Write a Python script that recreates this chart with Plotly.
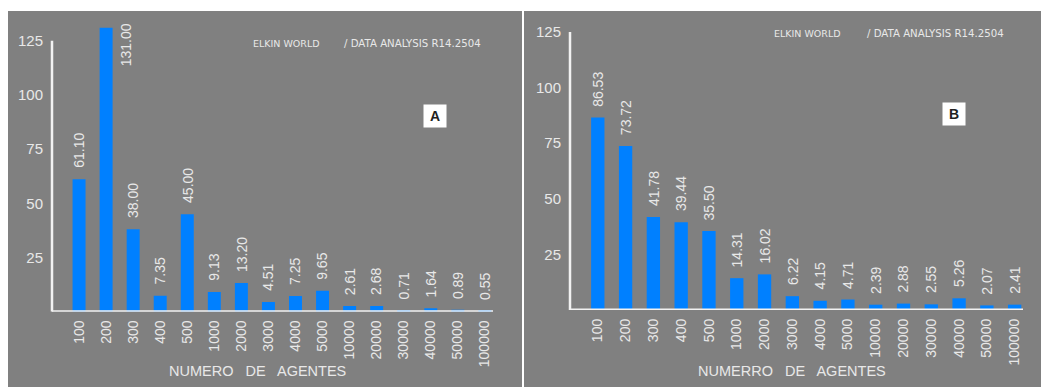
import plotly.graph_objects as go

# Data
agentes = ["100", "200", "300", "400", "500", "1000", "2000", "3000", "4000",
           "5000", "10000", "20000", "30000", "40000", "50000", "100000"]
valores_a = [61.10, 131.00, 38.00, 7.35, 45.00, 9.13, 13.20, 4.51, 7.25,
             9.65, 2.61, 2.68, 0.71, 1.64, 0.89, 0.55]
valores_b = [86.53, 73.72, 41.78, 39.44, 35.50, 14.31, 16.02, 6.22, 4.15,
             4.71, 2.39, 2.88, 2.55, 5.26, 2.07, 2.41]
y_ticks = [25, 50, 75, 100, 125]

W, H = 1041, 387
GRAY = "#808080"
BLUE = "#0080ff"
TXT = "#e8e8e8"
FONT = "Liberation Sans, Arial, sans-serif"
HDR_FONT = "DejaVu Sans, sans-serif"

pos = list(range(len(agentes)))


def px(x):
    return x / W


def py(y):
    return 1 - y / H


# panel geometry (pixels): y-axis x, x-axis end x, baseline y, 125-level y
panels = [
    dict(ax="", x0=52, x1=493, base=311.7, top125=40.7, title="NUMERO   DE   AGENTES",
         tx=257, tag="A", tagx=435, tagy=116.5, hdr_y=43, hdr1=251, hdr2=342,
         bg=(8, 522), vals=valores_a),
    dict(ax="2", x0=570, x1=1023, base=310, top125=32, title="NUMERRO   DE   AGENTES",
         tx=792, tag="B", tagx=954, tagy=114, hdr_y=33, hdr1=772, hdr2=865,
         bg=(524, 1041), vals=valores_b),
]

Y_TOP = 135
X_RANGE = [-1.0, 15.3]

fig = go.Figure()
shapes = []
annotations = []
layout_axes = {}

for p in panels:
    xa = "x" + p["ax"]
    ya = "y" + p["ax"]
    scale = (p["base"] - p["top125"]) / 125.0
    top_px = p["base"] - Y_TOP * scale

    fig.add_trace(go.Bar(
        x=pos, y=p["vals"], xaxis=xa, yaxis=ya, customdata=agentes,
        marker=dict(color=BLUE, line=dict(width=0)), width=0.48,
        showlegend=False, hovertemplate="%{customdata}: %{y:.2f}<extra></extra>",
    ))

    layout_axes["xaxis" + p["ax"]] = dict(
        domain=[px(p["x0"]), px(p["x1"])], anchor=ya,
        range=X_RANGE, tickvals=pos, ticktext=agentes,
        showline=False, showgrid=False, zeroline=False,
        ticks="", tickangle=-90, ticklabelstandoff=5,
        tickfont=dict(family=FONT, size=14, color=TXT),
    )
    layout_axes["yaxis" + p["ax"]] = dict(
        domain=[py(p["base"]), py(top_px)], anchor=xa,
        range=[0, Y_TOP], tickvals=y_ticks, showline=False, showgrid=False,
        zeroline=False, ticks="", ticklabelstandoff=8,
        tickfont=dict(family=FONT, size=15, color=TXT),
    )

    # panel background
    shapes.append(dict(type="rect", xref="paper", yref="paper",
                       x0=px(p["bg"][0]), x1=px(p["bg"][1]), y0=0, y1=py(11),
                       fillcolor=GRAY, line=dict(width=0), layer="below"))
    # axis lines
    shapes.append(dict(type="line", xref=xa + " domain", yref=ya,
                       x0=0, x1=0, y0=0, y1=125,
                       line=dict(color="#f2f2f2", width=2.5)))
    shapes.append(dict(type="line", xref=xa + " domain", yref=ya,
                       x0=0, x1=1, y0=0, y1=0,
                       line=dict(color="#f2f2f2", width=3)))

    # value labels above each bar (beside the bar when it runs to the top)
    for i, v in zip(pos, p["vals"]):
        room = (45 + 10) / scale
        if v + room > Y_TOP:
            annotations.append(dict(
                x=i, y=v, xref=xa, yref=ya, text=f"{v:.2f}", textangle=-90,
                showarrow=False, xanchor="center", yanchor="top", xshift=20,
                yshift=6, font=dict(family=FONT, size=14, color=TXT)))
        else:
            annotations.append(dict(
                x=i, y=v, xref=xa, yref=ya, text=f"{v:.2f}", textangle=-90,
                showarrow=False, xanchor="center", yanchor="bottom", yshift=9,
                font=dict(family=FONT, size=14, color=TXT)))

    # axis title
    annotations.append(dict(
        x=px(p["tx"]), y=py(371), xref="paper", yref="paper", text=p["title"],
        showarrow=False, xanchor="center", yanchor="middle",
        font=dict(family=FONT, size=14.5, color=TXT)))

    # header
    annotations.append(dict(
        x=px(p["hdr1"]), y=py(p["hdr_y"]), xref="paper", yref="paper",
        text="ELKIN WORLD", showarrow=False, xanchor="left", yanchor="middle",
        font=dict(family=HDR_FONT, size=9.5, color=TXT)))
    annotations.append(dict(
        x=px(p["hdr2"]), y=py(p["hdr_y"]), xref="paper", yref="paper",
        text="/ DATA ANALYSIS R14.2504", showarrow=False, xanchor="left",
        yanchor="middle", font=dict(family=HDR_FONT, size=10.2, color=TXT)))

    # panel tag
    annotations.append(dict(
        x=px(p["tagx"]), y=py(p["tagy"]), xref="paper", yref="paper",
        text="<b>" + p["tag"] + "</b>", showarrow=False, xanchor="center",
        yanchor="middle", bgcolor="white", width=20, height=20, borderpad=1,
        font=dict(family=FONT, size=14, color="#222222")))

fig.update_layout(
    width=W, height=H, margin=dict(l=0, r=0, t=0, b=0),
    paper_bgcolor="white", plot_bgcolor="rgba(0,0,0,0)",
    shapes=shapes, annotations=annotations,
    **layout_axes,
)

fig.write_html("out.html")
